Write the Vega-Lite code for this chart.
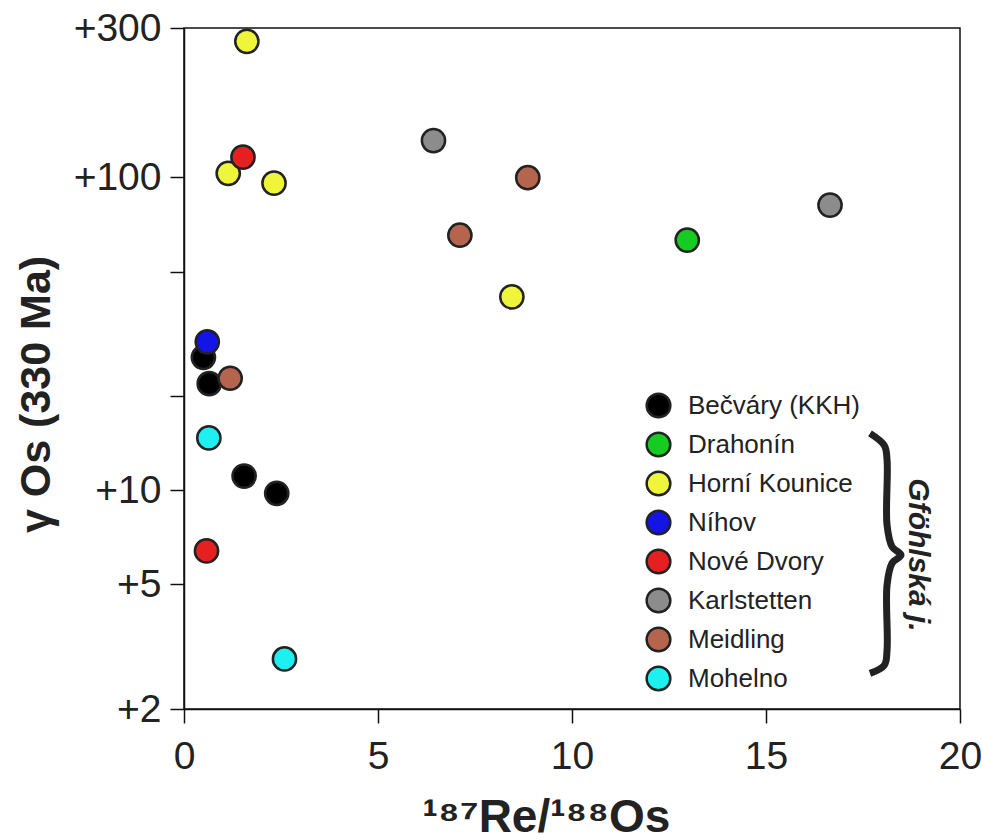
{
  "$schema": "https://vega.github.io/schema/vega-lite/v6.json",
  "width": 776,
  "height": 681,
  "autosize": {"type": "none"},
  "padding": {"left": 184, "top": 28, "right": 22, "bottom": 131},
  "background": "white",
  "config": {
    "view": {"stroke": "#111", "strokeWidth": 1.5},
    "font": "Liberation Sans"
  },
  "encoding": {
    "x": {
      "field": "x", "type": "quantitative",
      "scale": {"domain": [0, 20], "nice": false, "zero": false},
      "axis": {
        "values": [0, 5, 10, 15, 20],
        "grid": false,
        "domainColor": "#111", "domainWidth": 1.5,
        "tickColor": "#111", "tickWidth": 1.5, "tickSize": 14,
        "labelFont": "Liberation Sans", "labelFontSize": 39, "labelColor": "#222",
        "labelPadding": 14, "labelFlush": false, "labelOverlap": false,
        "title": "¹⁸⁷Re/¹⁸⁸Os",
        "titleFont": "Liberation Sans", "titleFontSize": 46, "titleFontWeight": "bold", "titleColor": "#222",
        "titleBaseline": "alphabetic", "titleY": 122, "titleX": 362
      }
    },
    "y": {
      "field": "y", "type": "quantitative",
      "scale": {"type": "log", "domain": [2, 300], "nice": false},
      "axis": {
        "values": [2, 5, 10, 20, 50, 100, 300],
        "labelExpr": "datum.value == 20 || datum.value == 50 ? '' : '+' + datum.value",
        "grid": false,
        "domainColor": "#111", "domainWidth": 1.5,
        "tickColor": "#111", "tickWidth": 1.5, "tickSize": 14,
        "labelFont": "Liberation Sans", "labelFontSize": 39, "labelColor": "#222",
        "labelPadding": 9, "labelFlush": false, "labelOverlap": false, "labelBound": false,
        "title": "γ Os (330 Ma)",
        "titleFont": "Liberation Sans", "titleFontSize": 43, "titleFontWeight": "bold", "titleColor": "#222",
        "titleAngle": -90, "titleBaseline": "alphabetic", "titleAlign": "center",
        "titleX": -135, "titleY": 366
      }
    }
  },
  "layer": [
    {
      "data": {"values": [
        {"site": "Bečváry (KKH)", "x": 0.50, "y": 26.6},
        {"site": "Bečváry (KKH)", "x": 0.65, "y": 21.9},
        {"site": "Bečváry (KKH)", "x": 1.55, "y": 11.1},
        {"site": "Bečváry (KKH)", "x": 2.39, "y": 9.78},
        {"site": "Drahonín", "x": 12.97, "y": 63.0},
        {"site": "Horní Kounice", "x": 1.62, "y": 272},
        {"site": "Horní Kounice", "x": 1.14, "y": 103},
        {"site": "Horní Kounice", "x": 2.32, "y": 95.8},
        {"site": "Horní Kounice", "x": 8.45, "y": 41.5},
        {"site": "Níhov", "x": 0.60, "y": 29.8},
        {"site": "Nové Dvory", "x": 1.52, "y": 116},
        {"site": "Nové Dvory", "x": 0.58, "y": 6.4},
        {"site": "Karlstetten", "x": 6.43, "y": 131},
        {"site": "Karlstetten", "x": 16.65, "y": 81.5},
        {"site": "Meidling", "x": 8.86, "y": 99.7},
        {"site": "Meidling", "x": 7.11, "y": 65.3},
        {"site": "Meidling", "x": 1.19, "y": 22.8},
        {"site": "Mohelno", "x": 0.64, "y": 14.7},
        {"site": "Mohelno", "x": 2.59, "y": 2.89}
      ]},
      "mark": {"type": "point", "shape": "circle", "filled": true, "size": 540, "opacity": 1, "stroke": "#222", "strokeWidth": 2.5},
      "encoding": {
        "color": {
          "field": "site", "type": "nominal",
          "scale": {
            "domain": ["Bečváry (KKH)", "Drahonín", "Horní Kounice", "Níhov", "Nové Dvory", "Karlstetten", "Meidling", "Mohelno"],
            "range": ["#000000", "#16cc22", "#eef53a", "#1414e6", "#e62020", "#8c8c8c", "#b5654d", "#1eeff0"]
          },
          "legend": {
            "title": null,
            "orient": "none", "legendX": 461, "legendY": 364,
            "padding": 0,
            "symbolType": "circle", "symbolSize": 560,
            "symbolStrokeColor": "#222", "symbolStrokeWidth": 2.5, "symbolOpacity": 1,
            "labelFont": "Liberation Sans", "labelFontSize": 26, "labelColor": "#222",
            "labelOffset": 16, "rowPadding": 4, "labelLimit": 400
          }
        }
      }
    },
    {
      "data": {"values": [
        {"i": 1, "x": 17.68, "y": 15.2},
        {"i": 2, "x": 18.05, "y": 13.9},
        {"i": 3, "x": 18.12, "y": 12.5},
        {"i": 4, "x": 18.12, "y": 7.74},
        {"i": 5, "x": 18.25, "y": 6.6},
        {"i": 6, "x": 18.48, "y": 6.21},
        {"i": 7, "x": 18.25, "y": 5.85},
        {"i": 8, "x": 18.12, "y": 4.98},
        {"i": 9, "x": 18.12, "y": 3.09},
        {"i": 10, "x": 18.05, "y": 2.76},
        {"i": 11, "x": 17.68, "y": 2.6}
      ]},
      "mark": {"type": "line", "color": "#222", "strokeWidth": 7, "interpolate": "catmull-rom", "strokeCap": "butt"},
      "encoding": {"order": {"field": "i", "type": "quantitative"}}
    },
    {
      "data": {"values": [{"x": 18.92, "y": 6.21, "label": "Gföhlská j."}]},
      "mark": {"type": "text", "angle": 90, "font": "Liberation Sans", "fontSize": 30, "fontWeight": "bold", "fontStyle": "italic", "color": "#222", "align": "center", "baseline": "middle"},
      "encoding": {"text": {"field": "label"}}
    }
  ]
}
